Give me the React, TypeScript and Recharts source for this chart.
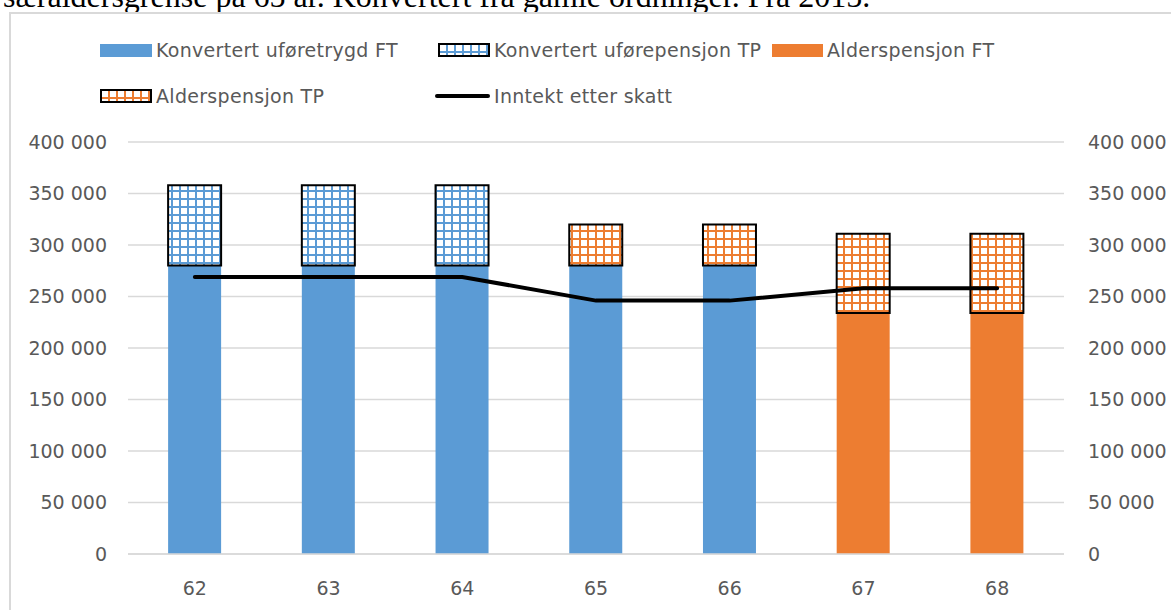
import React from "react";
import {
  ComposedChart,
  Bar,
  Line,
  XAxis,
  YAxis,
  CartesianGrid,
  Legend,
} from "recharts";

const ages = ["62", "63", "64", "65", "66", "67", "68"];
const uforeFT = [280000, 280000, 280000, 280000, 280000, 0, 0];
const uforeTP = [78000, 78000, 78000, 0, 0, 0, 0];
const alderFT = [0, 0, 0, 0, 0, 234000, 234000];
const alderTP = [0, 0, 0, 40000, 40000, 77000, 77000];
const inntekt = [269000, 269000, 269000, 246000, 246000, 258000, 258000];
const yTicks = [0, 50000, 100000, 150000, 200000, 250000, 300000, 350000, 400000];

const BLUE = "#5B9BD5";
const ORANGE = "#ED7D31";
const TEXT = "#595959";
const FONT = "'DejaVu Sans', sans-serif";

const data = ages.map((a, i) => ({
  age: a,
  uforeFT: uforeFT[i],
  uforeTP: uforeTP[i],
  alderFT: alderFT[i],
  alderTP: alderTP[i],
  inntekt: inntekt[i],
}));

const fmt = (v: number) => String(v).replace(/\B(?=(\d{3})+(?!\d))/g, " ");

function Swatch({ kind, w }: { kind: string; w: number }) {
  return (
    <svg width={w} height={14} style={{ display: "block" }}>
      {kind === "blue" && <rect x={0} y={1} width={w} height={13} fill={BLUE} />}
      {kind === "orange" && <rect x={0} y={1} width={w} height={13} fill={ORANGE} />}
      {kind === "blueHatch" && (
        <rect x={1} y={1} width={w - 2} height={12} fill="url(#hatchBlue)" stroke="#000" strokeWidth={2} />
      )}
      {kind === "orangeHatch" && (
        <rect x={1} y={1} width={w - 2} height={12} fill="url(#hatchOrange)" stroke="#000" strokeWidth={2} />
      )}
      {kind === "line" && (
        <line x1={2} y1={7} x2={w - 2} y2={7} stroke="#000" strokeWidth={4} strokeLinecap="round" />
      )}
    </svg>
  );
}

const legendItems = [
  { label: "Konvertert uføretrygd FT", kind: "blue", x: 89, y: 36, w: 52 },
  { label: "Konvertert uførepensjon TP", kind: "blueHatch", x: 427, y: 36, w: 52 },
  { label: "Alderspensjon FT", kind: "orange", x: 761, y: 36, w: 51 },
  { label: "Alderspensjon TP", kind: "orangeHatch", x: 89, y: 82, w: 52 },
  { label: "Inntekt etter skatt", kind: "line", x: 424, y: 82, w: 55 },
];

function CustomLegend() {
  return (
    <div style={{ position: "relative", width: 1160, height: 110 }}>
      {legendItems.map((it) => (
        <div
          key={it.label}
          style={{
            position: "absolute",
            left: it.x,
            top: it.y - 12,
            height: 24,
            display: "flex",
            alignItems: "center",
            gap: 4,
            fontFamily: FONT,
            fontSize: 19,
            letterSpacing: 0.3,
            color: TEXT,
            whiteSpace: "nowrap",
          }}
        >
          <Swatch kind={it.kind} w={it.w} />
          <span>{it.label}</span>
        </div>
      ))}
    </div>
  );
}

export default function App() {
  const tick = { fontSize: 19, fill: TEXT, fontFamily: FONT };
  return (
    <div style={{ position: "fixed", left: 0, top: 0, width: 1171, height: 610, overflow: "hidden", background: "#fff" }}>
      <div
        style={{
          position: "absolute",
          top: -20,
          left: 3,
          fontFamily: "'Liberation Serif', serif",
          fontSize: 32,
          lineHeight: "32px",
          whiteSpace: "nowrap",
          color: "#000",
        }}
      >
        særaldersgrense på 65 år. Konvertert fra gamle ordninger. Fra 2015.
      </div>
      <div
        style={{
          position: "absolute",
          left: 9,
          top: 12,
          width: 1170,
          height: 620,
          border: "2px solid #d9d9d9",
          background: "#fff",
        }}
      >
        <ComposedChart
          width={1160}
          height={596}
          data={data}
          margin={{ top: 128, right: 0, left: 0, bottom: 26 }}
          barCategoryGap="30%"
        >
          <defs>
            <pattern id="hatchBlue" width={8} height={8} patternUnits="userSpaceOnUse">
              <rect width={8} height={8} fill="#fff" />
              <rect x={0} y={0} width={2} height={8} fill={BLUE} />
              <rect x={0} y={0} width={8} height={2} fill={BLUE} />
            </pattern>
            <pattern id="hatchOrange" width={8} height={8} patternUnits="userSpaceOnUse">
              <rect width={8} height={8} fill="#fff" />
              <rect x={0} y={0} width={2} height={8} fill={ORANGE} />
              <rect x={0} y={0} width={8} height={2} fill={ORANGE} />
            </pattern>
          </defs>
          <CartesianGrid vertical={false} stroke="#d9d9d9" strokeWidth={1.5} yAxisId="left" />
          <XAxis
            dataKey="age"
            tickLine={false}
            axisLine={{ stroke: "#d9d9d9", strokeWidth: 1.5 }}
            tick={tick}
            tickSize={0}
            tickMargin={28}
            height={30}
          />
          <YAxis
            yAxisId="left"
            domain={[0, 400000]}
            ticks={yTicks}
            tickFormatter={fmt}
            tick={tick}
            axisLine={false}
            tickLine={false}
            tickSize={0}
            tickMargin={21}
            width={117}
          />
          <YAxis
            yAxisId="right"
            orientation="right"
            domain={[0, 400000]}
            ticks={yTicks}
            tickFormatter={fmt}
            tick={tick}
            axisLine={false}
            tickLine={false}
            tickSize={0}
            tickMargin={24}
            width={107}
          />
          <Legend
            verticalAlign="middle"
            align="center"
            content={() => <CustomLegend />}
            wrapperStyle={{ top: 0, left: 0, width: 1160, height: 110 }}
          />
          <Bar dataKey="uforeFT" name="Konvertert uføretrygd FT" stackId="a" yAxisId="left" fill={BLUE} isAnimationActive={false} />
          <Bar dataKey="alderFT" name="Alderspensjon FT" stackId="a" yAxisId="left" fill={ORANGE} isAnimationActive={false} />
          <Bar
            dataKey="uforeTP"
            name="Konvertert uførepensjon TP"
            stackId="a"
            yAxisId="left"
            fill="url(#hatchBlue)"
            stroke="#000"
            strokeWidth={2}
            isAnimationActive={false}
          />
          <Bar
            dataKey="alderTP"
            name="Alderspensjon TP"
            stackId="a"
            yAxisId="left"
            fill="url(#hatchOrange)"
            stroke="#000"
            strokeWidth={2}
            isAnimationActive={false}
          />
          <Line
            dataKey="inntekt"
            name="Inntekt etter skatt"
            yAxisId="right"
            type="linear"
            stroke="#000"
            strokeWidth={4}
            strokeLinecap="round"
            dot={false}
            activeDot={false}
            isAnimationActive={false}
          />
        </ComposedChart>
      </div>
    </div>
  );
}
